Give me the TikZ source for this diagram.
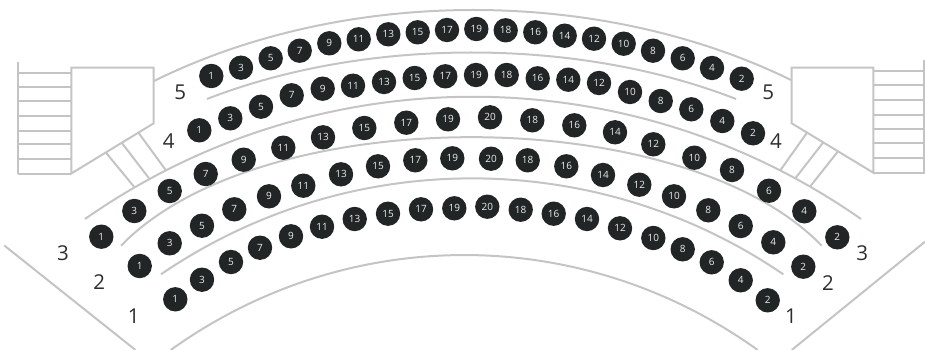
\documentclass[tikz,border=0pt]{standalone}
\usepackage{fontspec}
\setmainfont{Open Sans}
\usepackage{xcolor}
\definecolor{SeatDark}{RGB}{33,37,38}
\definecolor{SeatText}{RGB}{236,236,236}
\definecolor{RailGrey}{RGB}{196,196,196}
\definecolor{RowText}{RGB}{45,45,45}

\begin{document}
\begin{tikzpicture}[
          x=1pt, y=-1pt,
          seat/.style={circle, fill=SeatDark, text=SeatText, inner sep=0pt,
                       minimum size=24.4pt,
                       font=\fontsize{10}{12}\selectfont},
          rowno/.style={text=RowText, inner sep=0pt,
                        font=\fontsize{20.5}{24}\selectfont},
          rail/.style={draw=RailGrey, line width=2pt},
          wall/.style={draw=RailGrey, line width=2pt, line join=miter}
        ]
        \useasboundingbox (0,0) rectangle (925,350);

        % rails between the rows
        \draw[rail] (154,81) .. controls (345,-13.5) and (600,-13.5) .. (791,80);
        \draw[rail] (207,99) .. controls (366,37) and (577,37) .. (736,99);
        \draw[rail] (85,219) .. controls (318,56) and (628,56) .. (861,219);
        \draw[rail] (121,245.7) .. controls (261,101) and (682,101) .. (821.7,245.7);
        \draw[rail] (161,274.3) .. controls (348,146.4) and (596,146.4) .. (783.3,274.3);
        \draw[rail] (170.7,350) .. controls (347,223.4) and (581.6,223.4) .. (757.7,350);

        % outer walls
        \draw[rail] (4.3,245.5) -- (135.5,350);
        \draw[rail] (791.7,350) -- (925,241.7);

        % stairs, left
        \draw[wall] (71.3,173.5) -- (71.3,67.7) -- (153.7,67.7) -- (153.7,123.3) -- cycle;
        \draw[wall] (18.3,62) -- (18.3,173.7);
        \foreach \y in {72.7,87,101.3,116.3,130.7,144,159,173.7}{
          \draw[wall] (18.3,\y) -- (71.3,\y);
        }
        \foreach \xa/\ya/\xb/\yb in {138.3/132.5/165.7/170, 121.7/142.7/149/178.3, 105.7/152.3/134/186.7}{
          \draw[wall] (\xa,\ya) -- (\xb,\yb);
        }

        % stairs, right
        \draw[wall] (873.3,172.7) -- (873.3,67.7) -- (791.7,67.7) -- (791.7,123.3) -- cycle;
        \draw[wall] (924,60) -- (924,172.7);
        \foreach \y in {71.3,85.3,100.3,115.3,129.3,142.7,157.7,172.7}{
          \draw[wall] (873.3,\y) -- (925,\y);
        }
        \foreach \xa/\ya/\xb/\yb in {807.3/132.3/780/170.7, 823.3/142.3/795.3/178.3, 837.7/151.7/810/186.7}{
          \draw[wall] (\xa,\ya) -- (\xb,\yb);
        }

        % row 5
        \foreach \n/\x/\y in {1/211.3/76, 3/241/67.7, 5/270.7/58.3, 7/299.7/50.7, 9/329.3/43.3,
             11/358.7/39.3, 13/388.3/34.3, 15/417.7/32.3, 17/447/30, 19/476.3/29,
             18/505.7/30.3, 16/535.3/32.3, 14/564.7/35.7, 12/594/38.7, 10/623.7/43.7,
             8/653/50.7, 6/682.7/58.3, 4/712/68, 2/741.7/78.7}{
          \node[seat] (rfive\n) at (\x,\y) {\n};
        }
        % row 4
        \foreach \n/\x/\y in {1/199.3/130.3, 3/230.3/118.3, 5/261/106.7, 7/291.7/95.3, 9/322.7/88.7,
             11/353/85.7, 13/384/82, 15/414.7/78, 17/445.3/76.3, 19/476/75,
             18/506.7/75, 16/537.7/78.3, 14/568.3/79.7, 12/599/83, 10/630/92,
             8/660.7/101, 6/691.3/109.3, 4/722.3/121, 2/753/133.3}{
          \node[seat] (rfour\n) at (\x,\y) {\n};
        }
        % row 3
        \foreach \n/\x/\y in {1/101.3/236.7, 3/134.3/211, 5/169.7/191, 7/205.7/174, 9/243.7/159.7,
             11/283.3/147.7, 13/323/137.3, 15/364.3/128, 17/406.3/122.7, 19/448/119.3,
             20/490/117.3, 18/532.3/120.3, 16/574.3/125.3, 14/615/132.3, 12/653.3/144.3,
             10/694.3/157.7, 8/732/170, 6/769/190.7, 4/804.3/211.3, 2/837.3/237.3}{
          \node[seat] (rthree\n) at (\x,\y) {\n};
        }
        % row 2
        \foreach \n/\x/\y in {1/139.7/266, 3/169.7/243.3, 5/202/225.7, 7/234.3/209.3, 9/269/196.3,
             11/303.3/185.7, 13/341/174.3, 15/378/166.3, 17/415.3/160.3, 19/452.3/158.3,
             20/491/158.7, 18/527.7/160.3, 16/566.3/166.3, 14/603/175, 12/639.3/184.7,
             10/674/196.3, 8/708.3/210.3, 6/740.7/226, 4/773.3/242.3, 2/803.3/266.7}{
          \node[seat] (rtwo\n) at (\x,\y) {\n};
        }
        % row 1
        \foreach \n/\x/\y in {1/175.3/299.3, 3/202/279.7, 5/231/262, 7/260/247.7, 9/291/236.3,
             11/322/226.7, 13/354.7/219, 15/388/213.7, 17/421/209.3, 19/454.3/208.3,
             20/487.3/206.7, 18/520.7/209.7, 16/553.7/213.7, 14/587/219, 12/620/228.3,
             10/653.3/238, 8/682.7/249.3, 6/711.7/262.3, 4/740.7/280.3, 2/767.7/300.3}{
          \node[seat] (rone\n) at (\x,\y) {\n};
        }

        % row numbers at both ends
        \foreach \r/\xl/\yl/\xr/\yr in {5/180.3/92.3/768.3/92.3, 4/168.7/141/776/141.3,
                                        3/63/253/862.3/253, 2/99.3/282.3/828/283,
                                        1/133.7/316.3/791/316.3}{
          \node[rowno] (left\r) at (\xl,\yl) {\r};
          \node[rowno] (right\r) at (\xr,\yr) {\r};
        }
      \end{tikzpicture}
\end{document}
